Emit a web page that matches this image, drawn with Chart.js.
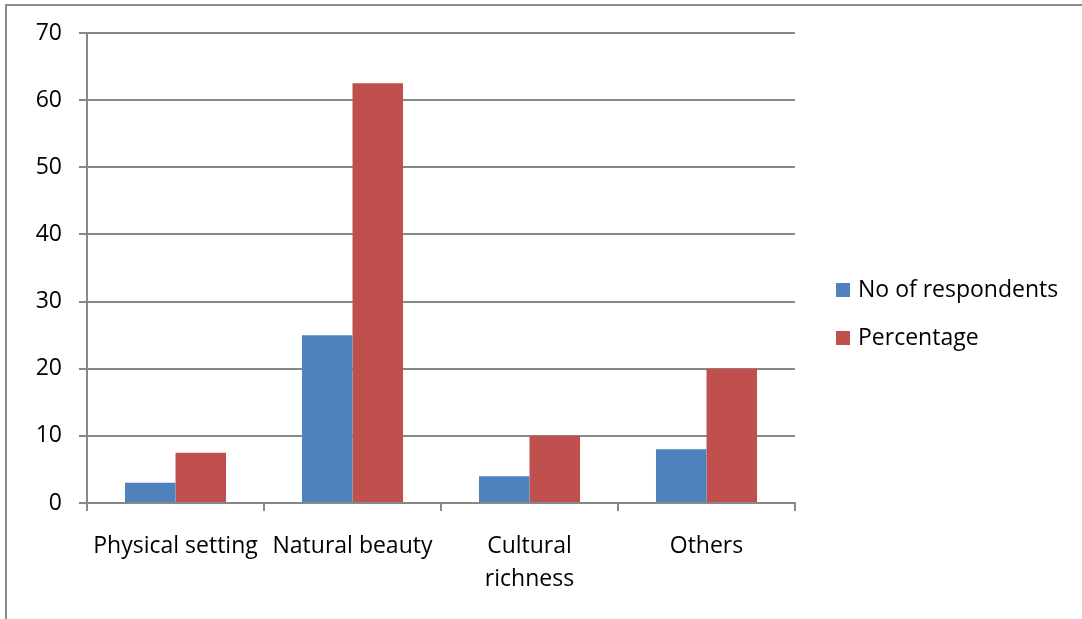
<!DOCTYPE html>
<html>
<head>
<meta charset="utf-8">
<script src="https://cdn.jsdelivr.net/npm/chart.js@4"></script>
<style>
    body { margin: 0; background: #fff; overflow: hidden; }
    #frame {
        position: absolute; left: 5px; top: 4px; width: 1200px; height: 800px;
        border-left: 2px solid #8c8c8c; border-top: 2px solid #8c8c8c;
    }
    #wrap { position: absolute; left: 0; top: 0; width: 1082px; height: 619px; }
</style>
</head>
<body>
<div id="frame"></div>
<div id="wrap"><canvas id="chart" width="1082" height="619"></canvas></div>
<script>
// Chart data
const categories = ['Physical setting', 'Natural beauty', ['Cultural', 'richness'], 'Others'];
const respondents = [3, 25, 4, 8];
const percentage = [7.5, 62.5, 10, 20];
const seriesNames = ['No of respondents', 'Percentage'];
const seriesColors = ['#4F81BD', '#C0504D'];
const yTicks = [0, 10, 20, 30, 40, 50, 60, 70];

const FONT = '"Open Sans", "DejaVu Sans", sans-serif';
const GRID = '#888888';

/**
 * Legend drawn beside the plot, like the original Excel layout
 */
const sideLegend = {
    id: 'sideLegend',
    afterDraw(chart) {
        const ctx = chart.ctx;
        ctx.save();
        ctx.font = '23px ' + FONT;
        ctx.textBaseline = 'middle';
        chart.data.datasets.forEach((ds, i) => {
            const cy = 290 + i * 48;
            ctx.fillStyle = ds.backgroundColor;
            ctx.fillRect(836, cy - 7, 14, 14);
            ctx.fillStyle = '#000';
            ctx.fillText(ds.label, 858, cy);
        });
        ctx.restore();
    }
};

new Chart(document.getElementById('chart'), {
    type: 'bar',
    data: {
        labels: categories,
        datasets: [
            { label: seriesNames[0], data: respondents, backgroundColor: seriesColors[0] },
            { label: seriesNames[1], data: percentage, backgroundColor: seriesColors[1] }
        ]
    },
    options: {
        responsive: false,
        animation: false,
        categoryPercentage: 0.571,
        barPercentage: 1,
        layout: { padding: { top: 33, right: 287, left: 0, bottom: 0 } },
        plugins: {
            legend: { display: false },
            tooltip: { enabled: false }
        },
        scales: {
            x: {
                afterFit: (scale) => { scale.height = 116; },
                grid: { offset: true, drawOnChartArea: false, color: GRID, tickLength: 8, lineWidth: 2 },
                border: { color: GRID, width: 2 },
                ticks: {
                    color: '#000',
                    font: { family: FONT, size: 23, lineHeight: 1.42 },
                    maxRotation: 0,
                    autoSkip: false,
                    padding: 19
                }
            },
            y: {
                min: 0,
                max: 70,
                afterFit: (scale) => { scale.width = 87; },
                afterBuildTicks: (scale) => { scale.ticks = yTicks.map(v => ({ value: v })); },
                grid: { color: GRID, tickLength: 8, lineWidth: 2 },
                border: { color: GRID, width: 2 },
                ticks: {
                    color: '#000',
                    font: { family: FONT, size: 23 },
                    padding: 17
                }
            }
        }
    },
    plugins: [sideLegend]
});
</script>
</body>
</html>
